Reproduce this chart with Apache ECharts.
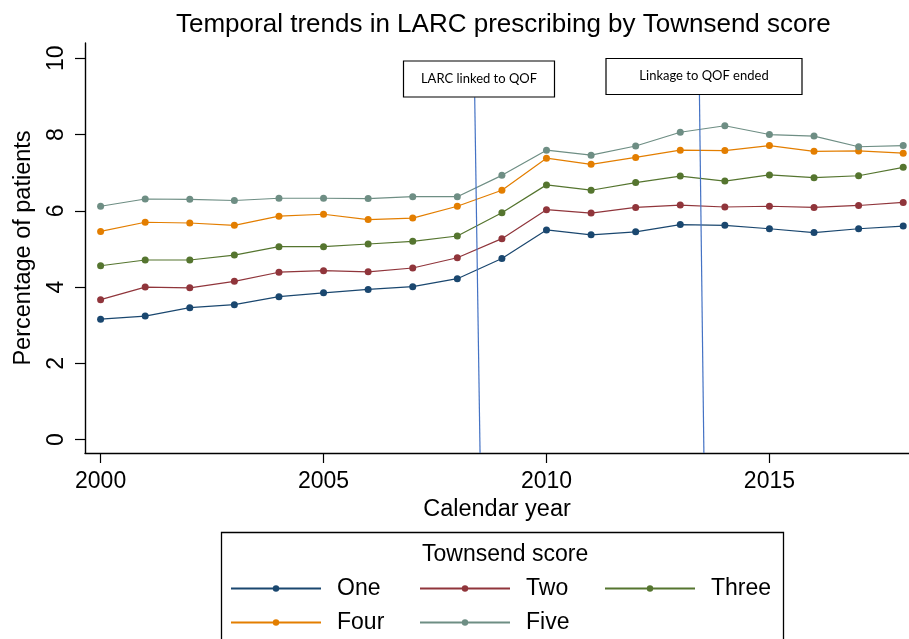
<!DOCTYPE html>
<html>
<head>
<meta charset="utf-8">
<script src="https://cdn.jsdelivr.net/npm/echarts@6/dist/echarts.min.js"></script>
<style>
  html, body { margin: 0; padding: 0; background: #fff; }
  #chart { width: 909px; height: 639px; }
</style>
</head>
<body>
<div id="chart"></div>
<script>
  // data
  var years = [2000, 2001, 2002, 2003, 2004, 2005, 2006, 2007, 2008, 2009,
               2010, 2011, 2012, 2013, 2014, 2015, 2016, 2017, 2018];
  var seriesNames = ['One', 'Two', 'Three', 'Four', 'Five'];
  var one   = [3.16, 3.24, 3.46, 3.54, 3.75, 3.85, 3.94, 4.01, 4.22, 4.75, 5.50, 5.37, 5.45, 5.64, 5.62, 5.53, 5.43, 5.53, 5.60];
  var two   = [3.67, 4.00, 3.98, 4.15, 4.39, 4.43, 4.40, 4.50, 4.77, 5.27, 6.03, 5.94, 6.09, 6.15, 6.10, 6.12, 6.09, 6.14, 6.22];
  var three = [4.56, 4.71, 4.71, 4.84, 5.06, 5.06, 5.13, 5.20, 5.34, 5.95, 6.68, 6.54, 6.74, 6.91, 6.78, 6.94, 6.87, 6.92, 7.14];
  var four  = [5.46, 5.70, 5.68, 5.62, 5.86, 5.91, 5.77, 5.81, 6.12, 6.54, 7.38, 7.22, 7.40, 7.59, 7.58, 7.71, 7.56, 7.57, 7.51];
  var five  = [6.12, 6.31, 6.30, 6.27, 6.33, 6.33, 6.32, 6.37, 6.37, 6.93, 7.59, 7.46, 7.70, 8.06, 8.23, 8.00, 7.96, 7.68, 7.71];
  var xTicks = [2000, 2005, 2010, 2015];
  var yTicks = [0, 2, 4, 6, 8, 10];
  // annotation lines (slightly slanted in the original)
  var larcLine = [[2008.39, 8.98], [2008.51, -0.35]];
  var qofEndLine = [[2013.43, 9.04], [2013.53, -0.35]];
  var annoLabels = ['LARC linked to QOF', 'Linkage to QOF ended'];

  var colors = ['#1a476f', '#90353b', '#55752f', '#e37e00', '#6e8e84'];
  var values = [one, two, three, four, five];
  var font = 'Liberation Sans, Arial, sans-serif';

  var chart = echarts.init(document.getElementById('chart'));

  function pairs(vals) {
    return years.map(function (y, i) { return [y, vals[i]]; });
  }

  var series = seriesNames.map(function (name, i) {
    return {
      name: name,
      type: 'line',
      data: pairs(values[i]),
      symbol: 'circle',
      symbolSize: 7,
      color: colors[i],
      lineStyle: { width: 1.2, color: colors[i] },
      itemStyle: { color: colors[i] },
      z: 2
    };
  });
  [larcLine, qofEndLine].forEach(function (pts) {
    series.push({
      type: 'line',
      data: pts,
      symbol: 'none',
      silent: true,
      lineStyle: { width: 1.2, color: '#4472c4' },
      z: 5
    });
  });

  // one legend per item so the columns line up like the original
  var legendPos = [[230, 577], [419, 577], [604, 577], [230, 611], [419, 611]];
  var legends = seriesNames.map(function (name, i) {
    return {
      data: [name],
      left: legendPos[i][0],
      top: legendPos[i][1],
      padding: 0,
      itemWidth: 90,
      itemHeight: 8,
      selectedMode: false,
      textStyle: { fontFamily: font, fontSize: 23, color: '#000', padding: [0, 0, 0, 11] }
    };
  });

  var option = {
    animation: false,
    backgroundColor: '#fff',
    title: [{
      text: 'Temporal trends in LARC prescribing by Townsend score',
      left: 171,
      top: 7,
      textStyle: { fontFamily: font, fontSize: 26, fontWeight: 'normal', color: '#000' }
    }, {
      text: 'Townsend score',
      left: 417,
      top: 538,
      textStyle: { fontFamily: font, fontSize: 23, fontWeight: 'normal', color: '#000' }
    }],
    legend: legends,
    grid: { left: 85, right: 0, top: 43, bottom: 186, containLabel: false },
    xAxis: {
      type: 'value',
      min: 1999.65,
      max: 2018.13,
      name: 'Calendar year',
      nameLocation: 'middle',
      nameGap: 38,
      nameTextStyle: { fontFamily: font, fontSize: 23.5, color: '#000' },
      axisLine: { show: true, onZero: false, lineStyle: { color: '#000', width: 1.4 } },
      axisTick: { show: true, length: 10, customValues: xTicks, lineStyle: { color: '#000', width: 1.2 } },
      axisLabel: {
        customValues: xTicks, fontFamily: font, fontSize: 23, color: '#000', margin: 17,
        formatter: function (v) { return String(v); }
      },
      splitLine: { show: false }
    },
    yAxis: {
      type: 'value',
      min: -0.35,
      max: 10.4,
      name: 'Percentage of patients',
      nameLocation: 'middle',
      nameGap: 49,
      nameTextStyle: { fontFamily: font, fontSize: 23.5, color: '#000' },
      axisLine: { show: true, onZero: false, lineStyle: { color: '#000', width: 1.4 } },
      axisTick: { show: true, length: 10, customValues: yTicks, lineStyle: { color: '#000', width: 1.2 } },
      axisLabel: { customValues: yTicks, rotate: 90, fontFamily: font, fontSize: 23, color: '#000', margin: 17 },
      splitLine: { show: false }
    },
    graphic: [
      { type: 'rect', shape: { x: 221.5, y: 532.5, width: 562, height: 140 },
        style: { fill: 'none', stroke: '#000', lineWidth: 1.3 }, silent: true },
      { type: 'rect', shape: { x: 403.5, y: 61, width: 151, height: 36 },
        style: { fill: '#fff', stroke: '#000', lineWidth: 1.2 }, silent: true, z: 10 },
      { type: 'text', x: 479, y: 79, style: { text: annoLabels[0], fontFamily: 'Lato, sans-serif', fontSize: 13,
        fill: '#000', align: 'center', verticalAlign: 'middle' }, silent: true, z: 11 },
      { type: 'rect', shape: { x: 606, y: 58.5, width: 196, height: 36 },
        style: { fill: '#fff', stroke: '#000', lineWidth: 1.2 }, silent: true, z: 10 },
      { type: 'text', x: 704, y: 76, style: { text: annoLabels[1], fontFamily: 'Lato, sans-serif', fontSize: 13,
        fill: '#000', align: 'center', verticalAlign: 'middle' }, silent: true, z: 11 }
    ],
    series: series
  };

  chart.setOption(option);
</script>
</body>
</html>
